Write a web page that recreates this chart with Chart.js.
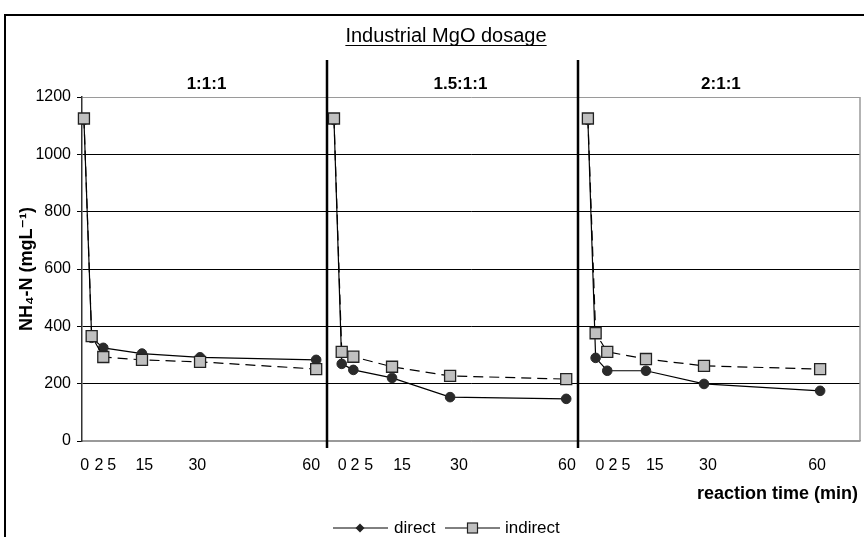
<!DOCTYPE html>
<html>
<head>
<meta charset="utf-8">
<script src="https://cdn.jsdelivr.net/npm/chart.js@4.4.1/dist/chart.umd.min.js"></script>
<style>
  html, body { margin: 0; padding: 0; background: #fff; }
  canvas { display: block; }
</style>
</head>
<body>
<canvas id="c" width="864" height="537"></canvas>
<script>
// ---------------- data ----------------
const times = [0, 2, 5, 15, 30, 60];              // reaction time (min)
const panelNames = ['1:1:1', '1.5:1:1', '2:1:1'];  // MgO dosage ratio
const direct_1   = [1120, 360, 325, 305, 292, 283];
const direct_15  = [1120, 269, 248, 220, 153, 147];
const direct_2   = [1120, 290, 245, 245, 199, 175];
const indirect_1  = [1125, 366, 293, 283, 276, 251];
const indirect_15 = [1125, 311, 294, 259, 227, 216];
const indirect_2  = [1125, 376, 311, 286, 262, 251];
const xTickLabels = ['0', '2', '5', '15', '30', '60'];
const yTicks = [0, 200, 400, 600, 800, 1000, 1200];
const seriesNames = ['direct', 'indirect'];

// ---------------- layout (not data) ----------------
const panelOffsets = [0, 64.6, 130.2];      // x-scale start of each panel
const panelBounds = [62.8, 127.6];          // divider positions on the x scale
const panelExtent = [-0.5, 62.8, 127.6, 200.5];
const labelAt = [                             // tick label positions within panel
  [0.2, 3.9, 7.2, 15.6, 29.3, 58.7],
  [2.1, 5.4, 9.0, 17.6, 32.3, 60.2],
  [3.1, 6.5, 9.8, 17.3, 31.0, 59.2]
];
const FONT = '"Liberation Sans", Arial, "DejaVu Sans", sans-serif';

function buildSeries(panels) {
  const out = [];
  panels.forEach((vals, p) => {
    vals.forEach((v, i) => out.push({ x: panelOffsets[p] + times[i], y: v }));
    if (p < panels.length - 1) out.push({ x: panelBounds[p], y: null });
  });
  return out;
}

const tickPositions = [];
const tickTexts = [];
labelAt.forEach((arr, p) => arr.forEach((m, i) => {
  tickPositions.push(panelOffsets[p] + m);
  tickTexts.push(xTickLabels[i]);
}));

const decor = {
  id: 'decor',
  beforeDraw(chart) {
    const ctx = chart.ctx;
    ctx.save();
    ctx.fillStyle = '#fff';
    ctx.fillRect(0, 0, chart.width, chart.height);
    ctx.restore();
  },
  afterDraw(chart) {
    const { ctx, chartArea: ca, scales: { x } } = chart;
    ctx.save();
    // plot area right border
    ctx.strokeStyle = '#9a9a9a';
    ctx.lineWidth = 1.5;
    ctx.beginPath();
    ctx.moveTo(ca.right, ca.top);
    ctx.lineTo(ca.right, ca.bottom);
    ctx.stroke();

    // panel dividers
    ctx.strokeStyle = '#000';
    ctx.lineWidth = 2.5;
    panelBounds.forEach(b => {
      const px = Math.round(x.getPixelForValue(b));
      ctx.beginPath();
      ctx.moveTo(px, 60);
      ctx.lineTo(px, ca.bottom + 7);
      ctx.stroke();
    });

    // panel labels
    ctx.fillStyle = '#000';
    ctx.font = 'bold 17px ' + FONT;
    ctx.textAlign = 'center';
    ctx.textBaseline = 'middle';
    panelNames.forEach((name, p) => {
      const cx = (x.getPixelForValue(panelExtent[p]) + x.getPixelForValue(panelExtent[p + 1])) / 2 + (p === 1 ? 8 : 2);
      ctx.fillText(name, cx, 84);
    });

    // main title, underlined
    ctx.font = '20px ' + FONT;
    ctx.textBaseline = 'alphabetic';
    const title = 'Industrial MgO dosage';
    const tx = 446, ty = 42;
    ctx.fillText(title, tx, ty);
    const tw = ctx.measureText(title).width;
    ctx.lineWidth = 1;
    ctx.beginPath();
    ctx.moveTo(tx - tw / 2, ty + 3.5);
    ctx.lineTo(tx + tw / 2, ty + 3.5);
    ctx.stroke();

    // x-axis title
    ctx.font = 'bold 18px ' + FONT;
    ctx.textAlign = 'right';
    ctx.fillText('reaction time (min)', 858, 499);

    // legend
    const ly = 528;
    ctx.lineWidth = 1;
    ctx.strokeStyle = '#000';
    ctx.beginPath(); ctx.moveTo(333, ly); ctx.lineTo(388, ly); ctx.stroke();
    ctx.fillStyle = '#222';
    ctx.beginPath();
    ctx.moveTo(360, ly - 4.5); ctx.lineTo(364.5, ly); ctx.lineTo(360, ly + 4.5); ctx.lineTo(355.5, ly);
    ctx.closePath(); ctx.fill();
    ctx.beginPath(); ctx.moveTo(445, ly); ctx.lineTo(500, ly); ctx.stroke();
    ctx.fillStyle = '#c0c0c0';
    ctx.fillRect(467.5, ly - 5, 10, 10);
    ctx.strokeStyle = '#222';
    ctx.lineWidth = 1.2;
    ctx.strokeRect(467.5, ly - 5, 10, 10);
    ctx.fillStyle = '#000';
    ctx.font = '17px ' + FONT;
    ctx.textAlign = 'left';
    ctx.textBaseline = 'middle';
    ctx.fillText(seriesNames[0], 394, ly);
    ctx.fillText(seriesNames[1], 505, ly);

    // outer border
    ctx.strokeStyle = '#000';
    ctx.lineWidth = 2;
    ctx.strokeRect(5, 15, 900, 600);
    ctx.restore();
  }
};

new Chart(document.getElementById('c'), {
  type: 'line',
  data: {
    datasets: [
      {
        label: seriesNames[0],
        data: buildSeries([direct_1, direct_15, direct_2]),
        borderColor: '#000',
        borderWidth: 1.2,
        pointStyle: 'circle',
        pointRadius: 4.8,
        pointBackgroundColor: '#2a2a2a',
        pointBorderColor: '#2a2a2a',
        pointBorderWidth: 1,
        spanGaps: false,
        tension: 0,
        clip: false,
        order: 1
      },
      {
        label: seriesNames[1],
        data: buildSeries([indirect_1, indirect_15, indirect_2]),
        borderColor: '#000',
        borderWidth: 1.2,
        borderDash: [10, 6],
        pointStyle: 'rect',
        pointRadius: 7.8,
        pointBackgroundColor: '#c0c0c0',
        pointBorderColor: '#222',
        pointBorderWidth: 1.3,
        spanGaps: false,
        tension: 0,
        clip: false,
        order: 0
      }
    ]
  },
  options: {
    responsive: false,
    animation: false,
    events: [],
    layout: { autoPadding: false, padding: { left: 0, right: 4, top: 97, bottom: 0 } },
    plugins: {
      legend: { display: false },
      title: { display: false },
      tooltip: { enabled: false }
    },
    scales: {
      x: {
        type: 'linear',
        min: -0.5,
        max: 200.5,
        afterFit: s => { s.height = 96; s.paddingLeft = 0; s.paddingRight = 0; },
        afterBuildTicks: s => { s.ticks = tickPositions.map(v => ({ value: v })); },
        ticks: {
          autoSkip: false,
          maxRotation: 0,
          padding: 15,
          color: '#000',
          font: { size: 16, family: FONT },
          callback: (v, i) => tickTexts[i]
        },
        grid: { display: false, drawTicks: false },
        border: { display: true, color: '#9a9a9a', width: 1.5 }
      },
      y: {
        min: 0,
        max: 1200,
        afterFit: s => { s.width = 82; },
        afterBuildTicks: s => { s.ticks = yTicks.map(v => ({ value: v })); },
        ticks: {
          padding: 6,
          color: '#000',
          font: { size: 16, family: FONT },
          callback: v => String(v)
        },
        grid: {
          color: c => (c.tick && (c.tick.value === 0 || c.tick.value === 1200)) ? '#9a9a9a' : '#000',
          lineWidth: 1,
          tickColor: '#000',
          tickLength: 5
        },
        border: { display: true, color: '#333', width: 1.5 },
        title: {
          display: true,
          text: 'NH₄-N (mgL⁻¹)',
          color: '#000',
          font: { size: 18, weight: 'bold', family: FONT },
          padding: { top: 16, bottom: 0 }
        }
      }
    }
  },
  plugins: [decor]
});
</script>
</body>
</html>
